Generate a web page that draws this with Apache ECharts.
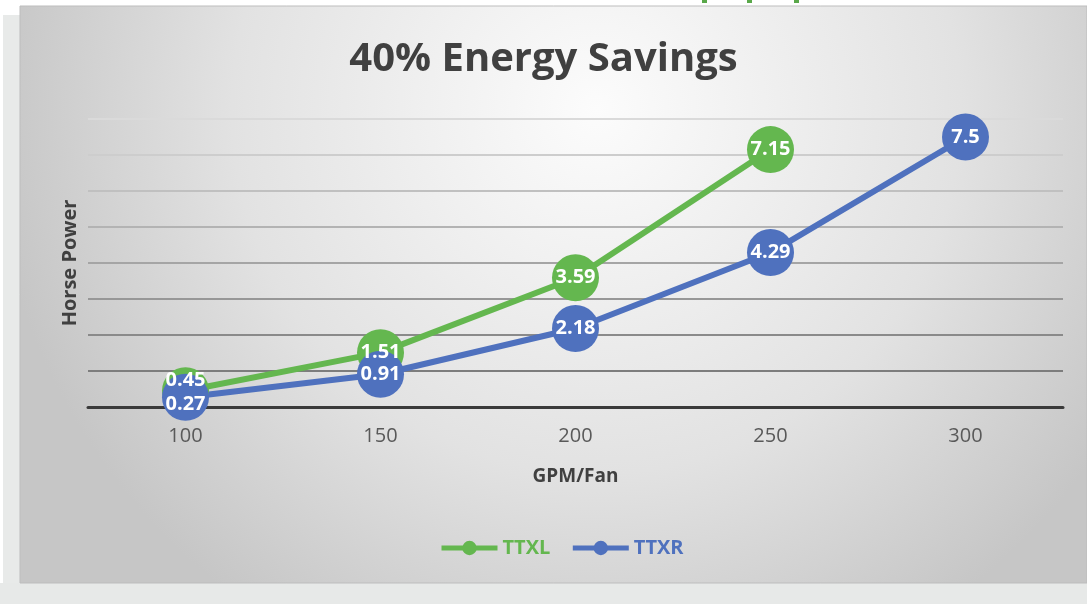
<!DOCTYPE html>
<html>
<head>
<meta charset="utf-8">
<style>
 html, body { margin: 0; padding: 0; background: #ffffff; }
 #chart { width: 1087px; height: 604px; }
</style>
<script src="https://cdn.jsdelivr.net/npm/echarts@6/dist/echarts.min.js"></script>
</head>
<body>
<div id="chart"></div>
<script>
 // chart data
 var gpmFan = ['100', '150', '200', '250', '300'];
 var ttxl = [0.45, 1.51, 3.59, 7.15, '-'];
 var ttxr = [0.27, 0.91, 2.18, 4.29, 7.5];
 var seriesNames = ['TTXL', 'TTXR'];

 var green = '#64b74f';
 var blue = '#4f71be';
 var font = 'Open Sans';

 function makeData(values, shift) {
   // first point labels overlap, nudge them apart like Excel does
   return values.map(function (v, i) {
     if (i === 0 && shift) {
       return { value: v, label: { offset: [0, shift] } };
     }
     return v;
   });
 }

 function makeSeries(name, values, color, shift) {
   return {
     name: name,
     type: 'line',
     data: makeData(values, shift),
     symbol: 'circle',
     symbolSize: 47,
     lineStyle: { color: color, width: 6 },
     itemStyle: { color: color },
     label: {
       show: true,
       position: 'inside',
       color: '#ffffff',
       fontFamily: font,
       fontWeight: 'bold',
       fontSize: 20
     },
     emphasis: { disabled: true },
     animation: false
   };
 }

 function makeOption() {
   var option = {
     backgroundColor: '#ffffff',
     animation: false,
     graphic: [
       { type: 'rect', z: -30, shape: { x: 3, y: 15, width: 20, height: 589 }, style: { fill: '#e8eae9' } },
       { type: 'rect', z: -30, shape: { x: 0, y: 583, width: 1087, height: 21 }, style: { fill: '#e7e9e8' } },
       {
         type: 'rect', z: -20,
         shape: { x: 20, y: 6, width: 1067, height: 577 },
         style: {
           fill: new echarts.graphic.RadialGradient(0.54, 0.18, 1.05, [
             { offset: 0, color: '#fcfcfc' },
             { offset: 0.6, color: '#e2e2e2' },
             { offset: 1, color: '#c6c6c6' }
           ]),
           stroke: '#bdbdbd',
           lineWidth: 1
         }
       },
       { type: 'rect', z: -10, shape: { x: 702, y: 0, width: 5, height: 3 }, style: { fill: '#5aa84a' } },
       { type: 'rect', z: -10, shape: { x: 747, y: 0, width: 5, height: 3 }, style: { fill: '#5aa84a' } },
       { type: 'rect', z: -10, shape: { x: 794, y: 0, width: 5, height: 3 }, style: { fill: '#5aa84a' } }
     ],
     title: {
       text: '40% Energy Savings',
       left: 'center',
       top: 35,
       textStyle: {
         color: '#404040',
         fontFamily: font,
         fontWeight: 'bold',
         fontSize: 40
       }
     },
     legend: {
       data: seriesNames,
       left: 434,
       top: 533,
       itemWidth: 56,
       itemHeight: 18,
       itemGap: 20,
       lineStyle: { width: 5 },
       textStyle: {
         fontFamily: font,
         fontWeight: 'bold',
         fontSize: 20,
         color: 'inherit'
       }
     },
     grid: { left: 88, right: 24, top: 119, bottom: 197 },
     xAxis: {
       type: 'category',
       data: gpmFan,
       boundaryGap: true,
       name: 'GPM/Fan',
       nameLocation: 'middle',
       nameGap: 60,
       nameTextStyle: { color: '#404040', fontFamily: font, fontWeight: 'bold', fontSize: 19 },
       axisLine: { lineStyle: { color: '#3a3a3a', width: 3 } },
       axisTick: { show: false },
       axisLabel: { color: '#595959', fontFamily: font, fontSize: 20, margin: 19 }
     },
     yAxis: {
       type: 'value',
       min: 0,
       max: 8,
       interval: 1,
       name: 'Horse Power',
       nameLocation: 'middle',
       nameGap: 8,
       nameRotate: 90,
       nameTextStyle: { color: '#404040', fontFamily: font, fontWeight: 'bold', fontSize: 20 },
       axisLabel: { show: false },
       axisLine: { show: false },
       axisTick: { show: false },
       splitLine: {
         lineStyle: {
           width: 2,
           color: ['#3a3a3a', '#7d7d7d', '#8a8a8a', '#979797', '#a5a5a5', '#b3b3b3', '#c0c0c0', '#cdcdcd', '#dadada']
         }
       }
     },
     series: [
       makeSeries(seriesNames[0], ttxl, green, -11),
       makeSeries(seriesNames[1], ttxr, blue, 7)
     ]
   };
   return option;
 }

 function setChart(id, option) {
   var myChart = echarts.init(document.getElementById(id));
   myChart.setOption(option);
 }

 setChart('chart', makeOption());
</script>
</body>
</html>
